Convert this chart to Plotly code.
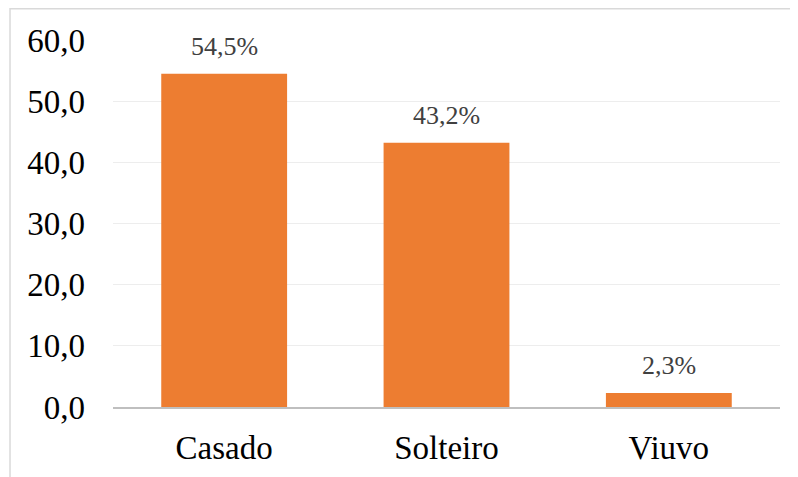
import plotly.graph_objects as go

categories = ["Casado", "Solteiro", "Viuvo"]
values = [54.5, 43.2, 2.3]
y_ticks = [0, 10, 20, 30, 40, 50, 60]

font_family = "Liberation Serif, Times New Roman, serif"

fig = go.Figure(
    go.Bar(
        x=categories,
        y=values,
        marker=dict(color="#ED7D31", line=dict(width=0)),
        width=0.566,
        hoverinfo="skip",
    )
)

annotations = [
    dict(
        x=c,
        y=v,
        xref="x",
        yref="y",
        text=(f"{v:.1f}%").replace(".", ","),
        showarrow=False,
        yanchor="bottom",
        yshift=11,
        font=dict(family=font_family, size=26, color="#404040"),
    )
    for c, v in zip(categories, values)
]

fig.update_layout(
    width=798,
    height=477,
    margin=dict(l=105, r=26, t=32, b=78, autoexpand=False),
    paper_bgcolor="white",
    plot_bgcolor="white",
    separators=",.",
    showlegend=False,
    font=dict(family=font_family, color="#000000"),
    annotations=annotations,
    shapes=[
        dict(
            type="rect",
            xref="paper",
            yref="paper",
            x0=-0.1544,
            x1=1.2,
            y0=-0.4,
            y1=1.085,
            line=dict(color="#D9D9D9", width=1.5),
            fillcolor="rgba(0,0,0,0)",
            layer="below",
        )
    ],
)

fig.update_xaxes(
    automargin=False,
    showgrid=False,
    showline=True,
    linecolor="#BFBFBF",
    linewidth=2,
    ticks="",
    tickfont=dict(family=font_family, size=33, color="#000000"),
    ticklabelstandoff=10,
)

fig.update_yaxes(
    automargin=False,
    range=[0, 60],
    tickvals=y_ticks,
    tickformat=".1f",
    showgrid=True,
    gridcolor="#EDEDED",
    gridwidth=1,
    zeroline=False,
    showline=False,
    ticks="",
    tickfont=dict(family=font_family, size=33, color="#000000"),
    ticklabelstandoff=27,
)

fig.write_html("out.html")
